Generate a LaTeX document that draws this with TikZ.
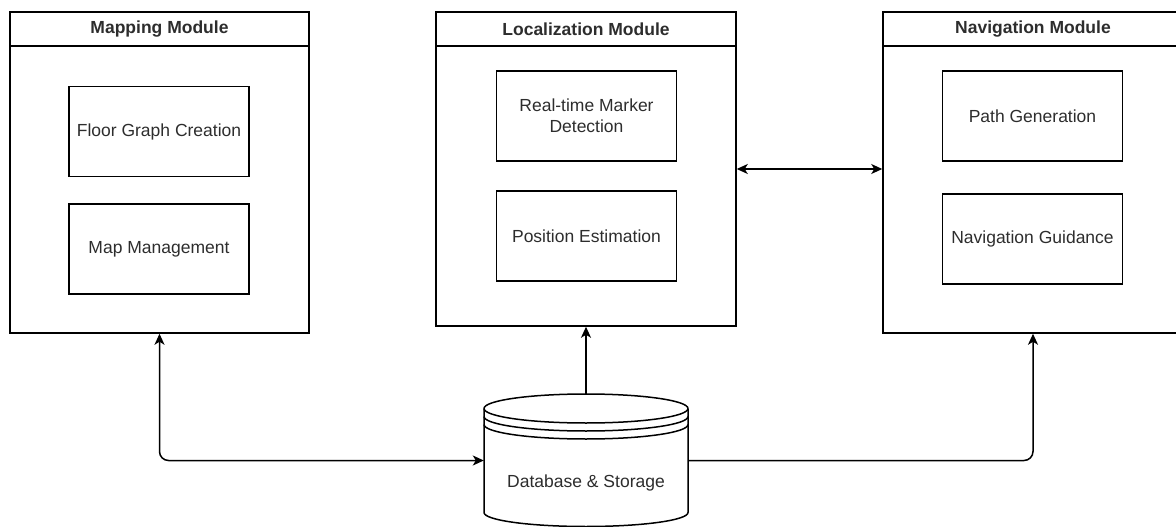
\documentclass[tikz,border=0pt]{standalone}
\usepackage{fontspec}
\setmainfont{Liberation Sans}
\usetikzlibrary{arrows.meta}
\definecolor{txtgray}{RGB}{45,45,45}

\begin{document}
\begin{tikzpicture}[x=1pt,y=-1pt,
        >={Stealth[length=11pt,width=10pt,inset=3pt]},
        module/.style={draw,line width=1.5pt,minimum width=300pt,inner sep=0pt},
        modtitle/.style={draw,line width=1.5pt,minimum width=300pt,minimum height=34pt,anchor=north,
            font=\fontsize{17.5}{21}\selectfont\bfseries,text=txtgray},
        part/.style={draw,line width=1.5pt,minimum width=180pt,minimum height=90pt,align=center,
            font=\fontsize{17.5}{21}\selectfont,text=txtgray},
        plain/.style={font=\fontsize{17.5}{21}\selectfont,text=txtgray},
        link/.style={line width=1.5pt,rounded corners=9pt},
        dbline/.style={line width=1.5pt,line join=round}]
            \useasboundingbox (0,0) rectangle (1176,527);
            \node[module,minimum width=299pt,minimum height=321pt] (mapbox) at (159.5,172.5) {};
            \node[modtitle,minimum width=299pt] (maptitle) at (mapbox.north) {Mapping Module};
            \node[part] (floor) at (159,131.5) {Floor Graph Creation};
            \node[part] (mapmgmt) at (159,249) {Map Management};
            \node[module,minimum height=314pt] (locbox) at (586,169) {};
            \node[modtitle] (loctitle) at (locbox.north) {Localization Module};
            \node[part] (marker) at (586.5,116) {Real-time Marker\\Detection};
            \node[part] (position) at (586.5,236) {Position Estimation};
            \node[module,minimum height=321pt] (navbox) at (1033,172.5) {};
            \node[modtitle] (navtitle) at (navbox.north) {Navigation Module};
            \node[part] (pathgen) at (1032.5,116) {Path Generation};
            \node[part] (guidance) at (1032.5,239) {Navigation Guidance};
            \node[minimum width=204pt,minimum height=133pt,inner sep=0pt] (db) at (586,460.5) {};
            \begin{scope}[shift={(db.center)}]
                \draw[dbline,fill=white] (-102,-52) -- (-102,52) arc[start angle=180,end angle=360,x radius=102pt,y radius=14pt] -- (102,-52);
                \draw[dbline,fill=white] (0,-52) ellipse[x radius=102pt,y radius=14.5pt];
                \draw[dbline] (-102,-44) arc[start angle=180,end angle=360,x radius=102pt,y radius=14.5pt];
                \draw[dbline] (-102,-36) arc[start angle=180,end angle=360,x radius=102pt,y radius=14.5pt];
            \end{scope}
            \node[plain] (dblabel) at ([yshift=-22.5pt]db.center) {Database \& Storage};
            \draw[link,<->] (mapbox.south) |- (db.west);
            \draw[link,->] (db.north) -- (locbox.south);
            \draw[link,->] (db.east) -| (navbox.south);
            \draw[link,<->] (locbox.east) -- (locbox.east -| navbox.west);
        \end{tikzpicture}
\end{document}
